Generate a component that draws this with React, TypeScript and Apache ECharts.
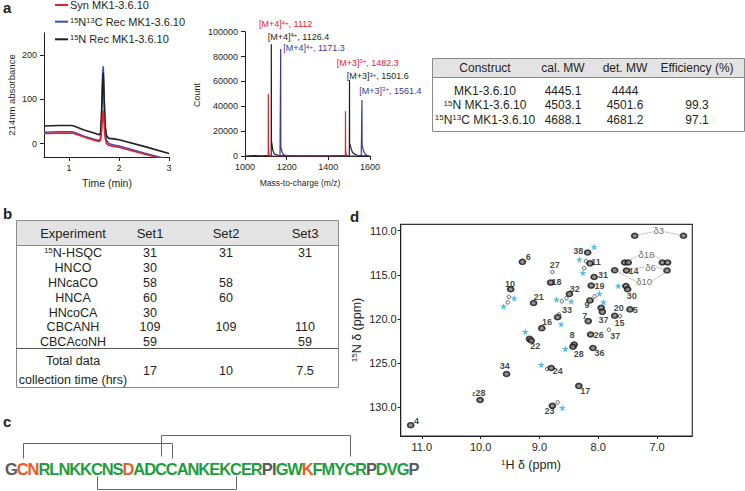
import React, { useEffect, useRef } from 'react';
import * as echarts from 'echarts';

const FONT = '"Liberation Sans", Arial, Helvetica, sans-serif';
const INK = '#231f20';
const RED = '#e8202a';
const BLUE = '#3450c0';
const NAVY = '#3a3a98';
const CYAN = '#29abe2';

// ---------- panel a : HPLC traces ----------
const hplcTime = [0.5, 0.8, 1.05, 1.1, 1.3, 1.5, 1.6, 1.63, 1.65, 1.67, 1.685, 1.7, 1.72, 1.75, 1.8, 1.9, 2.0, 2.5, 3.0];
const synTrace = [23, 24, 24, 23, 15, 8, 5, 8, 25, 60, 75, 50, 15, 0, -4, -6, -8, -23, -38];
const cnTrace = [26, 27, 27, 26, 17, 10, 7, 12, 60, 150, 175, 120, 40, 8, 0, -3, -5, -21, -36];
const nTrace = [40, 41, 41, 40, 31, 24, 20, 24, 60, 130, 160, 110, 45, 18, 12, 11, 9, -6, -22];
const hplcLegend = ['Syn MK1-3.6.10', '{s|15}N{s|13}C Rec MK1-3.6.10', '{s|15}N Rec MK1-3.6.10'];

// ---------- panel a : mass spectra ----------
const redMz = [1108, 1111.5, 1112, 1112.6, 1113.5, 1115, 1118, 1478, 1481.8, 1482.3, 1482.9, 1484, 1486, 1490];
const redCount = [0, 0, 50000, 9000, 4000, 1500, 0, 0, 0, 36000, 8000, 3500, 1200, 0];
const blackMz = [1000, 1040, 1080, 1110, 1125.8, 1126.4, 1127, 1128.5, 1130, 1133, 1138, 1145, 1160, 1200, 1250, 1300, 1400, 1480, 1500.9, 1501.6, 1502.3, 1504, 1506, 1510, 1516, 1525, 1540, 1560, 1600];
const blackCount = [0, 300, 200, 400, 0, 90000, 12000, 10500, 9000, 5000, 2500, 1200, 500, 300, 200, 150, 200, 300, 0, 61000, 9000, 9500, 8000, 5500, 3000, 1500, 600, 300, 0];
const blueMz = [1168, 1170.7, 1171.3, 1171.9, 1173, 1175, 1178, 1183, 1190, 1200, 1240, 1558, 1560.8, 1561.4, 1562, 1563.5, 1566, 1570, 1576, 1585, 1595];
const blueCount = [0, 0, 86000, 8000, 6500, 5000, 3000, 1500, 700, 300, 0, 0, 0, 45000, 9000, 8000, 6000, 3500, 1800, 600, 0];
const msNotes = [
  { t: '[M+4]{s|4+}, 1112', c: RED, x: 259, y: 24.3 },
  { t: '[M+4]{s|4+}, 1126.4', c: INK, x: 267.7, y: 36.7 },
  { t: '[M+4]{s|4+}, 1171.3', c: NAVY, x: 283.3, y: 48.3 },
  { t: '[M+3]{s|3+}, 1482.3', c: RED, x: 336.7, y: 62.7 },
  { t: '[M+3]{s|3+}, 1501.6', c: INK, x: 346.7, y: 76 },
  { t: '[M+3]{s|3+}, 1561.4', c: NAVY, x: 359.3, y: 90.7 },
];

// ---------- panel a : table ----------
const tableAHead = ['Construct', 'cal. MW', 'det. MW', 'Efficiency (%)'];
const tableAConstruct = ['MK1-3.6.10', '{s|15}N MK1-3.6.10', '{s|15}N{s|13}C MK1-3.6.10'];
const tableACal = ['4445.1', '4503.1', '4688.1'];
const tableADet = ['4444', '4501.6', '4681.2'];
const tableAEff = ['', '99.3', '97.1'];

// ---------- panel b : table ----------
const tableBHead = ['Experiment', 'Set1', 'Set2', 'Set3'];
const expNames = ['{s|15}N-HSQC', 'HNCO', 'HNcaCO', 'HNCA', 'HNcoCA', 'CBCANH', 'CBCAcoNH'];
const set1 = ['31', '30', '58', '60', '30', '109', '59'];
const set2 = ['31', '', '58', '60', '', '109', ''];
const set3 = ['31', '', '', '', '', '110', '59'];
const totalTime = ['17', '10', '7.5'];

// ---------- panel c : sequence ----------
const sequence = 'GCNRLNKKCNSDADCCANKEKCERPIGWKFMYCRPDVGP';
const seqColors = 'xoo' + 'gggggggg' + 'o' + 'gggggggggggg' + 'xx' + 'gg' + 'o' + 'ggggg' + 'x' + 'ggg' + 'x';
const disulfides = [[2, 16, 'up1'], [15, 33, 'up2'], [9, 22, 'down']];

// ---------- panel d : HSQC ----------
const nmrPeaks = [
  [9.29, 113.53], [8.81, 115.88], [9.49, 116.64], [9.10, 118.20], [8.49, 117.17], [8.18, 112.46],
  [8.14, 113.70], [8.07, 115.24], [8.12, 116.22], [8.14, 117.90], [8.69, 119.80], [8.96, 121.05],
  [9.17, 122.26], [9.14, 122.45], [8.41, 122.90], [8.43, 123.15], [8.13, 121.77], [8.09, 123.30],
  [8.17, 120.25], [7.95, 118.73], [7.93, 119.20], [9.56, 126.24], [8.80, 125.56], [8.33, 127.60],
  [7.38, 110.57], [6.55, 110.57], [7.55, 113.60], [7.49, 113.60], [6.91, 113.60], [6.82, 113.60],
  [7.52, 114.51], [7.72, 114.48], [6.83, 114.51], [7.53, 116.26], [7.50, 116.64], [7.72, 119.64],
  [7.46, 118.92], [10.01, 129.20], [11.19, 132.05], [8.78, 129.85],
];
const nmrMinor = [
  [8.78, 114.67], [9.52, 117.50], [9.54, 118.12], [8.54, 117.66], [8.62, 118.00], [8.21, 113.45],
  [8.24, 114.25], [8.06, 117.44], [8.67, 119.50], [8.87, 125.67], [7.82, 121.23], [8.69, 129.47],
  [7.63, 119.70],
];
const nmrStars = [
  [8.07, 111.82], [8.32, 113.26], [8.26, 114.78], [7.98, 117.13], [7.91, 118.10], [9.43, 117.67],
  [9.61, 118.58], [8.71, 117.80], [8.46, 118.00], [8.63, 120.60], [9.24, 121.46], [8.56, 123.40],
  [8.97, 125.20], [8.61, 130.08], [7.66, 116.26],
];
const nmrLabels = [
  [9.19, 113.03, '6'], [8.74, 113.90, '27'], [8.71, 115.84, '18'], [9.50, 116.00, '10'], [9.01, 117.50, '21'],
  [8.40, 116.56, '32'], [8.34, 112.28, '38'], [8.04, 113.49, '11'], [7.92, 114.97, '31'], [7.98, 116.22, '19'],
  [8.19, 118.46, '9'], [8.53, 119.03, '33'], [8.87, 120.36, '16'], [9.07, 123.10, '22'], [8.44, 121.88, '8'],
  [8.33, 123.97, '28'], [7.99, 121.88, '26'], [7.98, 123.89, '36'], [8.23, 119.68, '7'], [7.91, 120.17, '37'],
  [9.59, 125.38, '34'], [8.69, 125.94, '24'], [8.22, 128.14, '17'], [8.83, 130.50, '23'], [11.09, 131.56, '4'],
  [10.03, 128.45, '{e|ε}28'], [7.40, 114.55, '14'], [7.43, 117.40, '30'], [7.65, 118.73, '20'],
  [7.64, 120.48, '15'], [7.37, 119.03, '5'], [7.71, 121.96, '37'],
];
const deltaLabels = [[6.97, 110.0, 'δ3'], [7.18, 112.65, 'δ18'], [7.11, 114.12, 'δ6'], [7.22, 115.8, 'δ10']];
const deltaLinks = [
  [[7.38, 110.57], [7.07, 110.12]], [[6.87, 110.12], [6.55, 110.57]],
  [[7.49, 113.4], [7.29, 112.75]], [[7.07, 112.75], [6.91, 113.4]],
  [[7.45, 114.35], [7.22, 114.12]], [[7.01, 114.12], [6.83, 114.45]],
  [[7.72, 114.48], [7.34, 115.8]], [[7.10, 115.8], [6.83, 114.6]],
];

const STAR = 'path://M50,0 L61,35 L98,35 L68,57 L79,91 L50,70 L21,91 L32,57 L2,35 L39,35 Z';
const zip = (a: number[], b: number[]) => a.map((v, i) => [v, b[i]]);

const supRich = (size: number, fill: string) => ({
  s: { fontSize: size, fill, fontFamily: FONT, verticalAlign: 'top' },
});

const txt = (x: number, y: number, text: string, o: any = {}) => ({
  type: 'text',
  x,
  y,
  rotation: o.rot ?? 0,
  silent: true,
  z: 10,
  style: {
    text,
    fill: o.fill ?? INK,
    fontSize: o.size ?? 12,
    fontFamily: FONT,
    fontWeight: o.weight ?? 'normal',
    align: o.align ?? 'center',
    verticalAlign: 'middle',
    rich: supRich(o.sup ?? Math.round((o.size ?? 12) * 0.65), o.fill ?? INK),
  },
});
const hline = (x1: number, x2: number, y: number, stroke = '#8a8a8a', w = 1) => ({
  type: 'line', silent: true, z: 9, shape: { x1, y1: y, x2, y2: y }, style: { stroke, lineWidth: w },
});
const poly = (pts: number[][], stroke = '#666', w = 1) => ({
  type: 'polyline', silent: true, z: 9, shape: { points: pts }, style: { stroke, lineWidth: w, fill: null },
});

function buildGraphics() {
  const g: any[] = [];
  // panel letters
  g.push(txt(3, 7, 'a', { size: 15, weight: 'bold', align: 'left' }));
  g.push(txt(3, 213, 'b', { size: 15, weight: 'bold', align: 'left' }));
  g.push(txt(3, 421, 'c', { size: 15, weight: 'bold', align: 'left' }));
  g.push(txt(350, 216, 'd', { size: 15, weight: 'bold', align: 'left' }));

  // HPLC legend
  const legCols = [RED, BLUE, INK];
  const legY = [5, 21.7, 39.3];
  hplcLegend.forEach((t, i) => {
    g.push(hline(55, 68, legY[i], legCols[i], 2));
    g.push(txt(70, legY[i], t, { size: 11, align: 'left', sup: 7.5 }));
  });
  // HPLC axis titles
  g.push(txt(11, 95, '214nm absorbance', { size: 9.5, rot: Math.PI / 2 }));
  g.push(txt(107, 183, 'Time (min)', { size: 10.5 }));
  // MS axis titles + notes
  g.push(txt(197, 95, 'Count', { size: 9, rot: Math.PI / 2 }));
  g.push(txt(300, 183, 'Mass-to-charge (m/z)', { size: 8.5 }));
  msNotes.forEach((n) => g.push(txt(n.x, n.y, n.t, { size: 9, fill: n.c, align: 'left', sup: 6 })));

  // table a
  const aL = 432.5, aR = 744.5, aTop = 58.5, aHeadB = 77.5, aBot = 131.5;
  const aCols = [485, 563, 625, 697];
  g.push({ type: 'rect', silent: true, z: 8, shape: { x: aL, y: aTop, width: aR - aL, height: aHeadB - aTop }, style: { fill: '#e3e3e3', stroke: null } });
  g.push({ type: 'rect', silent: true, z: 9, shape: { x: aL, y: aTop, width: aR - aL, height: aBot - aTop }, style: { fill: null, stroke: '#8a8a8a', lineWidth: 1 } });
  g.push(hline(aL, aR, aHeadB, '#8a8a8a', 1));
  tableAHead.forEach((h, i) => g.push(txt(aCols[i], 68, h, { size: 12 })));
  const aRowY = [90.7, 105.2, 119.7];
  tableAConstruct.forEach((c, r) => {
    g.push(txt(aCols[0], aRowY[r], c, { size: 12, sup: 8 }));
    g.push(txt(aCols[1], aRowY[r], tableACal[r], { size: 12 }));
    g.push(txt(aCols[2], aRowY[r], tableADet[r], { size: 12 }));
    if (tableAEff[r]) g.push(txt(aCols[3], aRowY[r], tableAEff[r], { size: 12 }));
  });

  // table b
  const bL = 16.5, bR = 338.5, bTop = 220.5, bHeadB = 245.5, bSep = 348.5, bBot = 387.5;
  const bCols = [73, 150, 226, 305];
  g.push({ type: 'rect', silent: true, z: 8, shape: { x: bL, y: bTop, width: bR - bL, height: bHeadB - bTop }, style: { fill: '#e3e3e3', stroke: null } });
  g.push({ type: 'rect', silent: true, z: 9, shape: { x: bL, y: bTop, width: bR - bL, height: bBot - bTop }, style: { fill: null, stroke: '#8a8a8a', lineWidth: 1 } });
  g.push(hline(bL, bR, bHeadB, '#8a8a8a', 1));
  g.push(hline(bL, bR, bSep, '#555', 1));
  tableBHead.forEach((h, i) => g.push(txt(bCols[i], 233, h, { size: 13 })));
  const bRowY = [253, 268, 283, 298, 312.5, 327, 342];
  expNames.forEach((e, r) => {
    g.push(txt(bCols[0], bRowY[r], e, { size: 12.5, sup: 8 }));
    if (set1[r]) g.push(txt(bCols[1], bRowY[r], set1[r], { size: 12.5 }));
    if (set2[r]) g.push(txt(bCols[2], bRowY[r], set2[r], { size: 12.5 }));
    if (set3[r]) g.push(txt(bCols[3], bRowY[r], set3[r], { size: 12.5 }));
  });
  g.push(txt(bCols[0], 361, 'Total data', { size: 12.5 }));
  g.push(txt(bCols[0], 379.5, 'collection time (hrs)', { size: 12.5 }));
  totalTime.forEach((t, i) => g.push(txt(bCols[i + 1], 370.5, t, { size: 12.5 })));

  // sequence
  const W: Record<string, number> = { G: 778, C: 722, N: 722, R: 722, L: 611, K: 722, S: 667, D: 722, A: 722, E: 667, P: 667, I: 278, W: 944, F: 611, M: 833, Y: 667, V: 667 };
  const colMap: Record<string, string> = { x: '#5a5a5c', o: '#f15a24', g: '#1e9e3e' };
  let x = 5.6;
  const centers: number[] = [];
  sequence.split('').forEach((l, i) => {
    const w = (W[l] * 15) / 1000;
    centers.push(x + w / 2);
    g.push(txt(x + w / 2, 468.5, l, { size: 16.5, weight: 'bold', fill: colMap[seqColors[i]] }));
    x += w;
  });
  disulfides.forEach(([a, b, kind]) => {
    const xa = Math.round(centers[(a as number) - 1]) + 0.5;
    const xb = Math.round(centers[(b as number) - 1]) + 0.5;
    if (kind === 'up1') g.push(poly([[xa, 458.5], [xa, 443.5], [xb, 443.5], [xb, 458.5]]));
    else if (kind === 'up2') g.push(poly([[xa, 456.5], [xa, 435.5], [xb, 435.5], [xb, 456.5]]));
    else g.push(poly([[xa, 476.5], [xa, 489.5], [xb, 489.5], [xb, 476.5]]));
  });

  // NMR axis titles
  g.push(txt(357, 330, '{s|15}N δ (ppm)', { size: 12.5, rot: Math.PI / 2, sup: 8 }));
  g.push(txt(531, 465, '{s|1}H δ (ppm)', { size: 12.5, sup: 8 }));
  return g;
}

const plain = (v: number) => String(v);
const axisBase = {
  axisLine: { show: true, onZero: false, lineStyle: { color: INK, width: 1 } },
  axisTick: { show: true, length: 4, lineStyle: { color: INK, width: 1 } },
  splitLine: { show: false },
  axisLabel: { fontSize: 9, color: INK, fontFamily: FONT, formatter: plain },
};

function buildOption() {
  const lineS = (data: number[][], color: string, xi: number, w = 1.4) => ({
    type: 'line', xAxisIndex: xi, yAxisIndex: xi, data, showSymbol: false, symbol: 'none',
    lineStyle: { color, width: w }, silent: true, clip: true,
  });
  return {
    animation: false,
    backgroundColor: '#ffffff',
    textStyle: { fontFamily: FONT },
    grid: [
      { left: 44, top: 33, width: 125, height: 124 },
      { left: 245, top: 31.7, width: 125, height: 124.3 },
      { left: 400.7, top: 224.3, width: 291.6, height: 211.7, show: true, borderColor: '#333', borderWidth: 1.2 },
    ],
    xAxis: [
      { ...axisBase, gridIndex: 0, type: 'value', min: 0.5, max: 3,
        axisTick: { ...axisBase.axisTick, customValues: [1, 2, 3] },
        axisLabel: { ...axisBase.axisLabel, customValues: [1, 2, 3], margin: 6 } },
      { ...axisBase, gridIndex: 1, type: 'value', min: 1000, max: 1600, interval: 200,
        axisLabel: { ...axisBase.axisLabel, margin: 6 } },
      { ...axisBase, gridIndex: 2, type: 'value', inverse: true, min: 6.4, max: 11.36,
        axisTick: { ...axisBase.axisTick, length: 3, customValues: [7, 8, 9, 10, 11] },
        axisLabel: { ...axisBase.axisLabel, fontSize: 11, margin: 5, customValues: [7, 8, 9, 10, 11], formatter: (v: number) => v.toFixed(1) } },
    ],
    yAxis: [
      { ...axisBase, gridIndex: 0, type: 'value', min: -30, max: 250,
        axisTick: { ...axisBase.axisTick, customValues: [0, 100, 200] },
        axisLabel: { ...axisBase.axisLabel, customValues: [0, 100, 200], margin: 7 } },
      { ...axisBase, gridIndex: 1, type: 'value', min: 0, max: 100000, interval: 20000,
        axisLabel: { ...axisBase.axisLabel, margin: 7 } },
      { ...axisBase, gridIndex: 2, type: 'value', inverse: true, min: 109.27, max: 133.28,
        axisTick: { ...axisBase.axisTick, length: 3, customValues: [110, 115, 120, 125, 130] },
        axisLabel: { ...axisBase.axisLabel, fontSize: 11, margin: 4, customValues: [110, 115, 120, 125, 130], formatter: (v: number) => v.toFixed(1) } },
    ],
    series: [
      lineS(zip(hplcTime, cnTrace), BLUE, 0, 1.6),
      lineS(zip(hplcTime, nTrace), INK, 0, 1.6),
      lineS(zip(hplcTime, synTrace), RED, 0, 1.6),
      lineS(zip(blackMz, blackCount), INK, 1, 1.2),
      lineS(zip(redMz, redCount), RED, 1, 1.2),
      lineS(zip(blueMz, blueCount), NAVY, 1, 1.2),
      ...deltaLinks.map((seg) => ({
        type: 'line', xAxisIndex: 2, yAxisIndex: 2, data: seg, symbol: 'none', silent: true,
        lineStyle: { color: '#777', width: 0.8, type: 'dotted' },
      })),
      { type: 'scatter', xAxisIndex: 2, yAxisIndex: 2, data: nmrMinor, symbol: 'circle', symbolSize: 3.5, silent: true,
        itemStyle: { color: '#fff', borderColor: '#333', borderWidth: 1 } },
      { type: 'scatter', xAxisIndex: 2, yAxisIndex: 2, data: nmrPeaks, symbol: 'circle', symbolSize: [6, 5], silent: true,
        itemStyle: { color: '#777', borderColor: '#111', borderWidth: 1.6 } },
      { type: 'scatter', xAxisIndex: 2, yAxisIndex: 2, data: nmrStars, symbol: STAR, symbolSize: 7, silent: true,
        itemStyle: { color: CYAN } },
      { type: 'scatter', xAxisIndex: 2, yAxisIndex: 2, silent: true, symbolSize: 1,
        itemStyle: { color: 'rgba(0,0,0,0)' },
        data: nmrLabels.map(([h, n, t]) => ({ value: [h, n], name: t })),
        label: { show: true, position: 'inside', formatter: '{b}', fontSize: 9, fontWeight: 'bold', color: '#111', fontFamily: FONT,
          rich: { e: { fontSize: 7, color: '#333', fontFamily: FONT } } } },
      { type: 'scatter', xAxisIndex: 2, yAxisIndex: 2, silent: true, symbolSize: 1,
        itemStyle: { color: 'rgba(0,0,0,0)' },
        data: deltaLabels.map(([h, n, t]) => ({ value: [h, n], name: t })),
        label: { show: true, position: 'inside', formatter: '{b}', fontSize: 9.5, color: '#444', fontFamily: FONT } },
    ],
    graphic: { elements: buildGraphics() },
  };
}

export default function App() {
  const ref = useRef<HTMLDivElement>(null);
  useEffect(() => {
    if (!ref.current) return;
    const chart = echarts.init(ref.current, null, { renderer: 'svg' });
    chart.setOption(buildOption() as any);
    return () => chart.dispose();
  }, []);
  return (
    <div
      ref={ref}
      style={{ position: 'absolute', left: 0, top: 0, width: 745, height: 491, background: '#fff' }}
    />
  );
}
